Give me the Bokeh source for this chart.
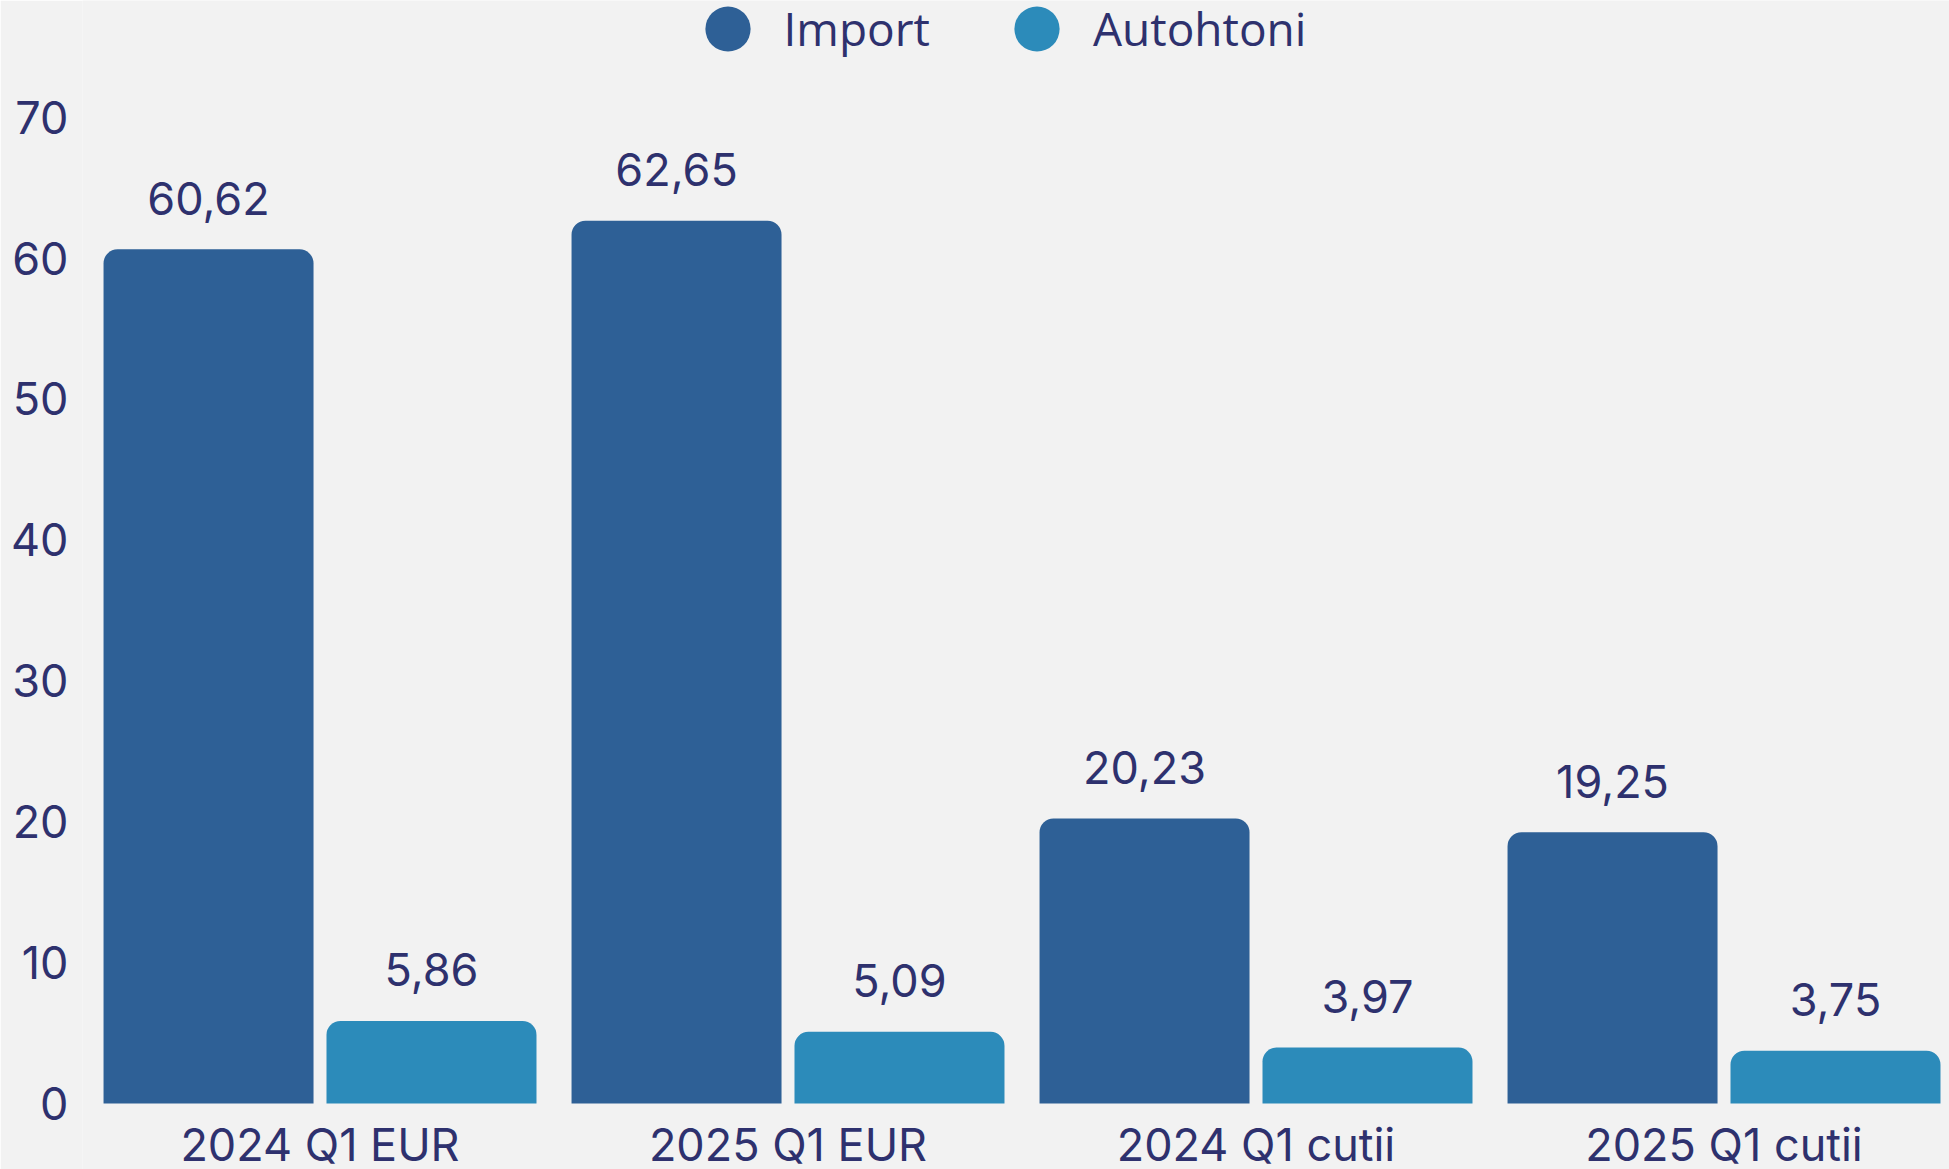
from bokeh.plotting import figure
from bokeh.models import ColumnDataSource, FixedTicker, Range1d, Legend, LegendItem
from bokeh.transform import dodge
from bokeh.core.properties import value
from bokeh.embed import file_html
from bokeh.resources import INLINE

# ---- data ----
categories = ["2024 Q1 EUR", "2025 Q1 EUR", "2024 Q1 cutii", "2025 Q1 cutii"]
import_vals = [60.62, 62.65, 20.23, 19.25]
autohtoni_vals = [5.86, 5.09, 3.97, 3.75]
series_names = ["Import", "Autohtoni"]
y_ticks = [0, 10, 20, 30, 40, 50, 60, 70]

# ---- style ----
BG = "#F2F2F2"
TEXT = "#2E316E"
C_IMPORT = "#2E6096"
C_AUTO = "#2C8BBA"
FONT = "Inter"
LEGEND_FONT = "Open Sans"
FS = "45px"


def fmt(v):
    return f"{v:.2f}".replace(".", ",")


xs = list(range(len(categories)))
src = ColumnDataSource(dict(
    x=xs,
    imp=import_vals,
    aut=autohtoni_vals,
    imp_lbl=[fmt(v) for v in import_vals],
    aut_lbl=[fmt(v) for v in autohtoni_vals],
))

p = figure(
    width=1949, height=1169,
    x_range=Range1d(-0.5075, 3.4818),
    y_range=Range1d(-4.684, 78.28),
    output_backend="svg", toolbar_location=None,
    min_border_left=82, min_border_right=0, min_border_top=0, min_border_bottom=0,
    background_fill_color=BG, border_fill_color=BG, outline_line_color=None,
)

OFF = 0.2382
BW = 0.4487
for field, lbl, off, col in [("imp", "imp_lbl", -OFF, C_IMPORT), ("aut", "aut_lbl", OFF, C_AUTO)]:
    p.vbar(x=dodge("x", off, range=p.x_range), top=field, width=BW, source=src,
           fill_color=col, line_color=None, border_radius=(14, 14, 0, 0))
    p.text(x=dodge("x", off, range=p.x_range), y=field, text=lbl, source=src,
           text_align="center", text_baseline="middle", y_offset=-51,
           text_font=value(FONT), text_font_size=FS, text_color=TEXT)

# axes
p.xgrid.visible = False
p.ygrid.visible = False

xa = p.xaxis[0]
xa.ticker = FixedTicker(ticks=xs)
xa.major_label_overrides = {i: c for i, c in enumerate(categories)}
xa.fixed_location = 0
xa.axis_line_color = None
xa.major_tick_line_color = None
xa.minor_tick_line_color = None
xa.major_label_standoff = 7
xa.major_label_text_font = FONT
xa.major_label_text_font_size = FS
xa.major_label_text_color = TEXT

ya = p.yaxis[0]
ya.ticker = FixedTicker(ticks=y_ticks)
ya.axis_line_color = None
ya.major_tick_line_color = None
ya.minor_tick_line_color = None
ya.major_tick_out = 0
ya.major_label_standoff = 14
ya.major_label_text_font = FONT
ya.major_label_text_font_size = FS
ya.major_label_text_color = TEXT

# legend (dummy renderers, one NaN point each, only used for the legend glyph)
nan = float("nan")
r_imp = p.scatter(x=[nan], y=[nan], size=45, fill_color=C_IMPORT, line_color=None)
r_aut = p.scatter(x=[nan], y=[nan], size=45, fill_color=C_AUTO, line_color=None)
legend = Legend(
    items=[LegendItem(label=series_names[0], renderers=[r_imp]),
           LegendItem(label=series_names[1], renderers=[r_aut])],
    orientation="horizontal", location=(588.5, 1084.5),
    glyph_width=113, glyph_height=113, label_standoff=0, spacing=50,
    padding=0, margin=0, border_line_color=None, background_fill_alpha=0,
    label_text_font=LEGEND_FONT, label_text_font_size="46px", label_text_color=TEXT,
)
p.add_layout(legend)

open("out.html", "w").write(file_html(p, INLINE))
